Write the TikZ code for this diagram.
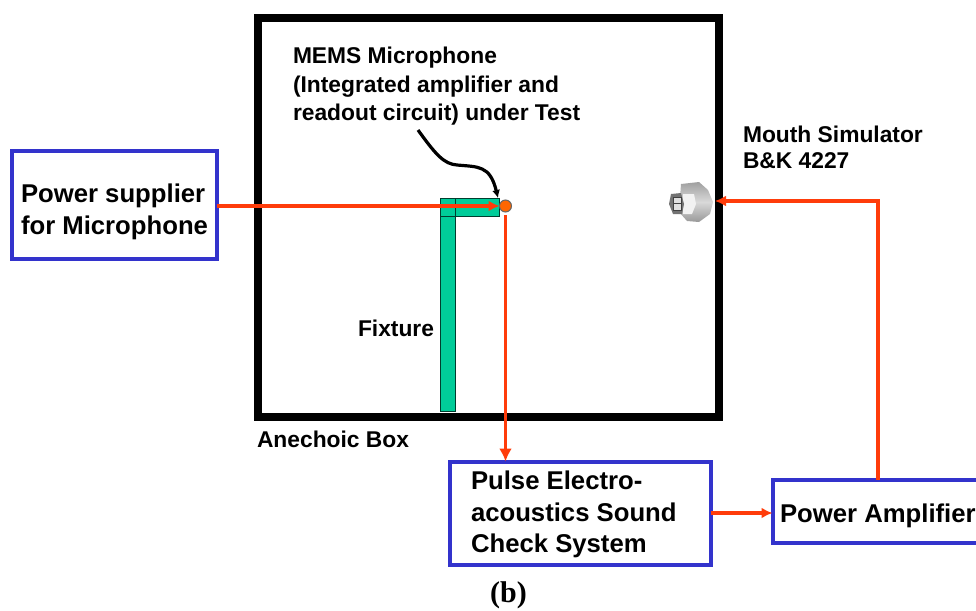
\documentclass[tikz,border=0pt]{standalone}
\usepackage{fontspec}
\setmainfont{Liberation Sans}
\newfontfamily\capfont{Liberation Serif}
\usetikzlibrary{arrows.meta,calc}
\definecolor{boxblue}{RGB}{51,51,204}
\definecolor{wirered}{RGB}{255,60,10}
\definecolor{fixteal}{RGB}{0,204,153}
\definecolor{micorange}{RGB}{255,102,0}
\tikzset{
  x=1pt,y=-1pt,
  every node/.style={outer sep=0pt},
  bluebox/.style={draw=boxblue,line width=4pt,fill=white,inner sep=0pt,anchor=north west},
  lab/.style={font=\bfseries\fontsize{25.7}{31.5}\selectfont,align=left,anchor=north west,inner sep=0pt,text=black},
  smalllab/.style={lab,font=\bfseries\fontsize{22.8}{28.5}\selectfont},
  wire/.style={draw=wirered,line width=3.4pt,-{Latex[length=13pt,width=13pt]}},
  wiresmall/.style={wire,-{Latex[length=11pt,width=11pt]}},
  fixpart/.style={draw=black!70!fixteal,line width=1pt,fill=fixteal,inner sep=0pt,anchor=north west}
}
\begin{document}
\begin{tikzpicture}
\useasboundingbox (0,0) rectangle (976,610);
\clip (0,0) rectangle (976,610);
% anechoic box
\node[draw=black,line width=8pt,minimum width=461pt,minimum height=399pt,inner sep=0pt,anchor=north west] (anechoic) at (258,18) {};
% fixture
\node[fixpart,minimum width=15pt,minimum height=213pt] (fixV) at (440,198) {};
\node[fixpart,minimum width=59pt,minimum height=18pt] (fixH) at (440,198) {};
\fill[fixteal] (441,199) rectangle (454.5,215.5);
\draw[black!70!fixteal,line width=1pt] (455,216) -- (455,198);
% mouth simulator
\begin{scope}
\shade[top color=gray!75,bottom color=gray!80,middle color=gray!30] (681,184) -- (699,182) -- (708,190) -- (713,202) -- (710,214) -- (699,222) -- (687,221) -- (679,212) -- cycle;
\fill[white!90!gray] (683,194) -- (694,194) -- (696,204) -- (692,214) -- (683,214) -- cycle;
\fill[black!55] (671,194) -- (681,193) -- (684,204) -- (682,214) -- (673,214) -- (669,204) -- cycle;
\fill[gray!25] (673,197) rectangle (681,210);
\draw[black!75,line width=1pt] (673,197) rectangle (681,210) (673,203) -- (681,203);
\end{scope}
\coordinate (mouth) at (715,201);
\coordinate (bend) at (878,201);
% microphone
\node[circle,draw=black!60,fill=micorange,line width=1pt,minimum size=12pt,inner sep=0pt] (mic) at (505.5,206) {};
% boxes
\node[bluebox,minimum width=205pt,minimum height=108pt] (supply) at (11.5,150.5) {};
\node[bluebox,minimum width=261pt,minimum height=103pt] (pulse) at (449.5,461.5) {};
\node[bluebox,minimum width=220pt,minimum height=63pt] (amp) at (772.5,479.5) {};
% labels
\node[lab] (supplylab) at (21,184) {Power supplier\\for Microphone};
\node[lab] (pulselab) at (471,471) {Pulse Electro-\\acoustics Sound\\Check System};
\node[lab] (amplab) at (780,504) {Power Amplifier};
\node[smalllab] (memslab) at (293,47) {MEMS Microphone\\(Integrated amplifier and\\readout circuit) under Test};
\node[smalllab,font=\bfseries\fontsize{22.8}{26}\selectfont] (mouthlab) at (743,126) {Mouth Simulator\\B\&K 4227};
\node[smalllab] (fixlab) at (358,320) {Fixture};
\node[smalllab] (anlab) at (257,431) {Anechoic Box};
\node[font=\capfont\bfseries\fontsize{30}{34}\selectfont,inner sep=0pt] (cap) at (508.5,595) {(b)};
% connectors
\draw[wiresmall] (supply.east |- mic.west) -- (mic.west);
\draw[wire] ($(mic.south)+(0,3)$) -- (pulse.north -| mic.south);
\draw[wiresmall] ($(pulse.east |- amp.west)+(0,2)$) -- ($(amp.west)+(0,2)$);
\draw[wiresmall] (amp.north -| bend) -- (bend) -- (mouth);
\draw[black,line width=3.2pt,-{Latex[length=8pt,width=8pt]}] (418,130) .. controls (436,155) and (444,164) .. (457,165) .. controls (478,167) and (490,165) .. (498,198);
\end{tikzpicture}
\end{document}
